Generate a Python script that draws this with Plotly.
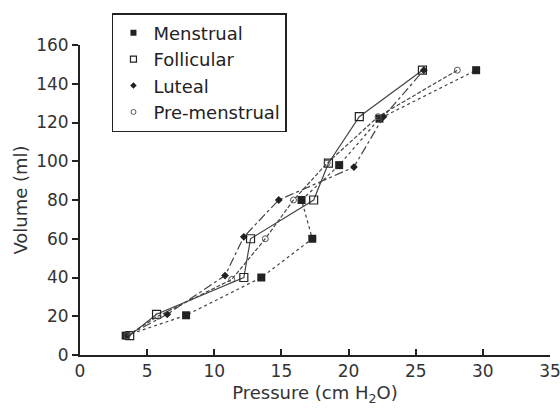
import plotly.graph_objects as go

series_names = ["Menstrual", "Follicular", "Luteal", "Pre-menstrual"]

menstrual_x = [3.4, 7.9, 13.5, 17.3, 16.5, 19.3, 22.3, 29.5]
menstrual_y = [10, 20.5, 40, 60, 80, 98, 122, 147]

follicular_x = [3.7, 5.7, 12.2, 12.7, 17.4, 18.5, 20.8, 25.5]
follicular_y = [10, 21, 40, 60, 80, 99, 123, 147]

luteal_x = [3.5, 6.5, 10.8, 12.2, 14.8, 20.4, 22.6, 25.6]
luteal_y = [10, 21, 41, 61, 80, 97, 123, 147]

premenstrual_x = [3.5, 5.8, 11.3, 13.8, 15.9, 18.4, 22.2, 28.1]
premenstrual_y = [10, 20, 39, 60, 80, 99, 123, 147]

x_ticks = [0, 5, 10, 15, 20, 25, 30, 35]
y_ticks = [0, 20, 40, 60, 80, 100, 120, 140, 160]

ink = "#222222"
font_family = "'DejaVu Sans', sans-serif"

fig = go.Figure()
styles = [
    (menstrual_x, menstrual_y, "dot", dict(symbol="square", size=8, color=ink)),
    (follicular_x, follicular_y, "solid", dict(symbol="square-open", size=8, color=ink, line=dict(width=1.2, color=ink))),
    (luteal_x, luteal_y, "dashdot", dict(symbol="diamond", size=6, color=ink)),
    (premenstrual_x, premenstrual_y, "4px,2px", dict(symbol="circle-open", size=6, color="#555555", line=dict(width=1, color="#555555"))),
]
for name, (xs, ys, dash, marker) in zip(series_names, styles):
    fig.add_trace(go.Scatter(
        x=xs, y=ys, name=name, mode="lines+markers",
        line=dict(color="#444444", width=1.2, dash=dash),
        marker=marker, showlegend=False, legendgroup=name,
    ))
# legend entries show only the marker symbol, as in the reference
for name, (xs, ys, dash, marker) in zip(series_names, styles):
    m = dict(marker)
    m["size"] = max(5, m["size"] - 2)
    fig.add_trace(go.Scatter(
        x=[None], y=[None], name=name, mode="markers",
        marker=m, showlegend=True, legendgroup=name,
    ))

fig.update_layout(
    width=560, height=412,
    margin=dict(l=80, r=10, t=45, b=57, autoexpand=False),
    paper_bgcolor="white", plot_bgcolor="white",
    font=dict(family=font_family, size=17, color="#333333"),
    showlegend=True,
    legend=dict(
        x=0.068, y=1.103, xanchor="left", yanchor="top",
        bordercolor=ink, borderwidth=1.5, bgcolor="white",
        font=dict(size=18, color="#222222"),
        itemwidth=30, tracegroupgap=0,
    ),
    xaxis=dict(
        range=[0, 35], tickvals=x_ticks, ticktext=[str(v) for v in x_ticks],
        showgrid=False, zeroline=False, showline=True, linecolor=ink, linewidth=1.8,
        ticks="inside", ticklen=6, tickwidth=1.5, tickcolor=ink,
        ticklabeloverflow="allow", automargin=False,
        title=dict(text="Pressure (cm H<sub>2</sub>O)", standoff=6, font=dict(size=18)),
        fixedrange=True,
    ),
    yaxis=dict(
        range=[0, 160], tickvals=y_ticks, ticktext=[str(v) for v in y_ticks],
        showgrid=False, zeroline=False, showline=True, linecolor=ink, linewidth=1.8,
        ticks="outside", ticklen=6, tickwidth=1.5, tickcolor=ink,
        automargin=False,
        title=dict(text="Volume (ml)", standoff=4, font=dict(size=18)),
        fixedrange=True,
    ),
)

fig.write_html("out.html")
